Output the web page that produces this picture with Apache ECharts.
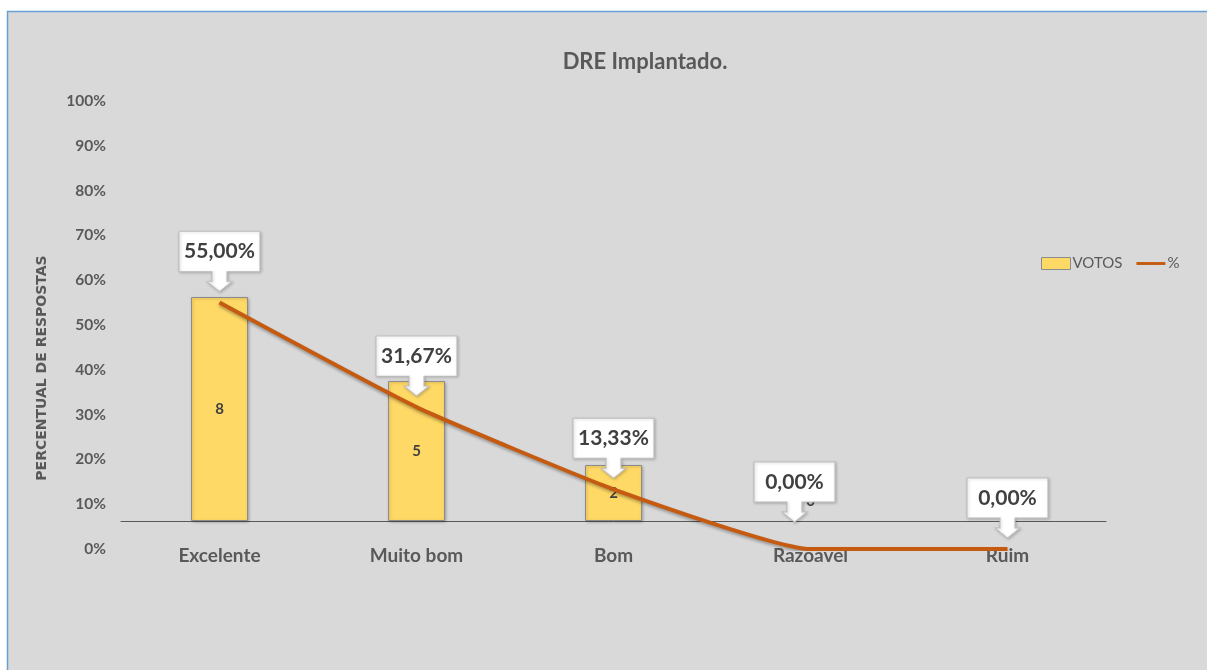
<!DOCTYPE html>
<html><head><meta charset="utf-8">
<script src="https://cdn.jsdelivr.net/npm/echarts@6/dist/echarts.min.js"></script>
<style>html,body{margin:0;padding:0;background:#fff;}#c{width:1207px;height:670px;}</style>
</head><body><div id="c"></div>
<script>
var categories = ['Excelente', 'Muito bom', 'Bom', 'Razoável', 'Ruim'];
var votos = [8, 5, 2, 0, 0];
var percent = [55.00, 31.67, 13.33, 0.00, 0.00];
var yTicks = [0, 10, 20, 30, 40, 50, 60, 70, 80, 90, 100];

var FONT = 'Lato, "Open Sans", sans-serif';
var GRAY = '#595959';

function fmtPct(v) { return v.toFixed(2).replace('.', ',') + '%'; }

var calloutPath = 'path://M0,0 H81 V40 H48 V50 H53 L40.5,60 L28,50 H33 V40 H0 Z';
var callouts = percent.map(function (p, i) {
  var off = [0, -41];
  if (i === 3) off = [-16, -57];
  return {
    coord: [i, p / 100],
    value: p,
    symbol: calloutPath,
    symbolSize: [81, 60],
    symbolOffset: off,
    label: { formatter: fmtPct(p) }
  };
});

var barData = votos.map(function (v) {
  if (v === 0) {
    return { value: v, itemStyle: { borderWidth: 0, shadowBlur: 0, shadowOffsetX: 0, shadowOffsetY: 0 },
             label: { position: 'top', distance: 12 } };
  }
  return v;
});

var chart = echarts.init(document.getElementById('c'));
chart.setOption({
  backgroundColor: '#ffffff',
  animation: false,
  graphic: [
    { type: 'rect', z: -100, shape: { x: 7.5, y: 11.5, width: 1220, height: 680 },
      style: { fill: '#d9d9d9', stroke: '#6a9fd4', lineWidth: 1.5 } },
    { type: 'text', x: 42, y: 368, rotation: Math.PI / 2,
      style: { text: 'PERCENTUAL DE RESPOSTAS', fill: GRAY, font: 'bold 14px "DejaVu Sans", sans-serif',
               align: 'center', verticalAlign: 'middle' } }
  ],
  title: {
    text: 'DRE Implantado.', left: 640, top: 46, textAlign: 'center',
    textStyle: { fontFamily: FONT, fontWeight: 'bold', fontSize: 22, color: GRAY }
  },
  legend: {
    left: 1036, top: 251, itemWidth: 29, itemHeight: 12, itemGap: 14,
    textStyle: { fontFamily: FONT, fontSize: 15, color: GRAY, padding: [0, 0, 0, -3] },
    data: [
      { name: 'VOTOS', icon: 'rect', itemStyle: { color: '#ffd966', borderColor: '#8c8c8c', borderWidth: 1 } },
      { name: '%', icon: 'path://M0,5 H30 V8 H0 Z', itemStyle: { color: '#c55a11' } }
    ]
  },
  grid: { left: 121, right: 101, top: 101, bottom: 121, containLabel: false },
  xAxis: {
    type: 'category', data: categories,
    axisLine: { onZero: true, onZeroAxisIndex: 1, lineStyle: { color: GRAY, width: 1 } },
    axisTick: { show: false },
    axisLabel: { margin: -3, fontFamily: FONT, fontWeight: 'bold', fontSize: 19, color: GRAY },
    splitLine: { show: false }
  },
  yAxis: [
    { type: 'value', min: 0, max: 1, interval: 0.1,
      axisLine: { show: false }, axisTick: { show: false }, splitLine: { show: false },
      axisLabel: { margin: 15, fontFamily: FONT, fontWeight: 'bold', fontSize: 15.5, color: GRAY,
        formatter: function (v) { return Math.round(v * 100) + '%'; } } },
    { type: 'value', min: -1, max: 15, show: false, splitLine: { show: false } }
  ],
  series: [
    { name: 'VOTOS', type: 'bar', yAxisIndex: 1, data: barData, barWidth: 57, z: 2,
      itemStyle: { color: '#ffd966', borderColor: '#8c8c8c', borderWidth: 1,
                   shadowColor: 'rgba(0,0,0,0.25)', shadowBlur: 3, shadowOffsetX: 1, shadowOffsetY: 1 },
      label: { show: true, fontFamily: FONT, fontWeight: 'bold', fontSize: 15, color: '#404040',
        position: 'inside' }
    },
    { name: '%', type: 'line', data: percent.map(function (p) { return p / 100; }),
      symbol: 'none', smooth: 0.15, z: 5,
      lineStyle: { color: '#c55a11', width: 4, shadowColor: 'rgba(0,0,0,0.3)', shadowBlur: 3, shadowOffsetY: 2 },
      itemStyle: { color: '#c55a11' },
      markPoint: {
        z: 10,
        data: callouts,
        itemStyle: { color: '#ffffff', borderColor: '#bfbfbf', borderWidth: 1,
                     shadowColor: 'rgba(0,0,0,0.2)', shadowBlur: 3, shadowOffsetX: 1, shadowOffsetY: 1 },
        label: { show: true, position: 'inside', offset: [0, -10],
                 fontFamily: FONT, fontWeight: 'bold', fontSize: 21, color: '#404040' }
      }
    }
  ]
});
</script></body></html>
